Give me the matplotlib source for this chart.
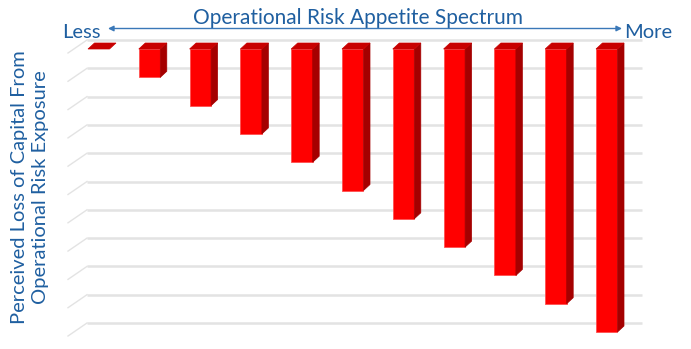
import matplotlib
matplotlib.use("Agg")
import matplotlib.pyplot as plt
from matplotlib.patches import Polygon

#--- Chart data ---#
levels = list(range(11))                       # bar positions (less -> more appetite)
loss_values = [0, 1, 2, 3, 4, 5, 6, 7, 8, 9, 10]   # perceived loss (downward bars)
grid_values = list(range(11))
title_text = "Operational Risk Appetite Spectrum"
ylabel_text = "Perceived Loss of Capital From\nOperational Risk Exposure"
left_label = "Less"
right_label = "More"

#--- Styles ---#
FRONT = "#FF0000"
SIDE = "#A50000"
TOP = "#C80000"
BLUE = "#1F5FA0"
GRID = "#E3E3E3"
FONT = "Lato"

W, H = 691, 349
fig = plt.figure(figsize=(W / 100, H / 100), dpi=100)
ax = fig.add_axes([0, 0, 1, 1])
ax.set_axis_off()

# data mapping: 1 unit in x = 50.8 px, 1 unit in y = 28.3 px
px_x, px_y = 50.8, 28.3
x0, y0 = 88.0, 49.0
ax.set_xlim(-x0 / px_x, (W - x0) / px_x)
ax.set_ylim((H - y0) / px_y, -y0 / px_y)

bar_w = 21.5 / px_x
dx, dy = 6.5 / px_x, -6.0 / px_y      # depth of bars
gdx, gdy = -19.0 / px_x, 13.0 / px_y  # depth of wall floor lines
g_off = -9.0 / px_y                   # gridlines sit on back wall

#--- back wall gridlines ---#
for g in grid_values:
    gy = g + g_off
    ax.plot([-1.0 / px_x, 10.9], [gy, gy], color=GRID, lw=1.8, zorder=1,
            solid_capstyle="butt")
    ax.plot([-1.0 / px_x + gdx, -1.0 / px_x], [gy + gdy, gy], color=GRID,
            lw=1.0, zorder=1)

#--- 3D bars ---#
for x, v in zip(levels, loss_values):
    l, r = x, x + bar_w
    front = Polygon([(l, 0), (r, 0), (r, v), (l, v)], closed=True,
                    facecolor=FRONT, edgecolor="#FF5050", lw=0.6, zorder=3)
    side = Polygon([(r, 0), (r + dx, dy), (r + dx, v + dy), (r, v)], closed=True,
                   facecolor=SIDE, edgecolor=SIDE, lw=0.5, zorder=3)
    top = Polygon([(l, 0), (r, 0), (r + dx, dy), (l + dx, dy)], closed=True,
                  facecolor=TOP, edgecolor=TOP, lw=0.5, zorder=4)
    if v > 0:
        ax.add_patch(front)
        ax.add_patch(side)
    ax.add_patch(top)

#--- texts ---#
def px(xp, yp):
    return ((xp - x0) / px_x, (yp - y0) / px_y)

ax.text(*px(358, 18), title_text, color=BLUE, fontsize=15, family=FONT,
        ha="center", va="center")
ax.text(*px(81, 33), left_label, color=BLUE, fontsize=14.5, family=FONT,
        ha="center", va="center")
ax.text(*px(648, 33), right_label, color=BLUE, fontsize=14.5, family=FONT,
        ha="center", va="center")
ax.annotate("", xy=px(108, 28.5), xytext=px(622, 28.5),
            arrowprops=dict(arrowstyle="<|-|>", color="#3A78B8", lw=1.0,
                            mutation_scale=8, shrinkA=0, shrinkB=0))
ax.text(*px(30, 187), ylabel_text, color=BLUE, fontsize=14.5, family=FONT,
        ha="center", va="center", rotation=90, linespacing=1.3)

fig.savefig("out.png", dpi=100)
